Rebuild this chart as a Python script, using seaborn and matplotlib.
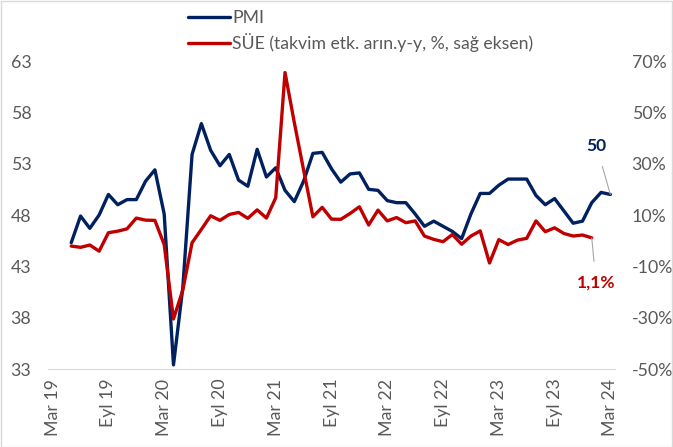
import numpy as np
import pandas as pd
import seaborn as sns
import matplotlib.pyplot as plt
from matplotlib.patches import Rectangle

# x axis: monthly categories Mar 2019 .. Mar 2024 (61 months), labelled every 6 months
tick_labels = ["Mar 19", "Eyl 19", "Mar 20", "Eyl 20", "Mar 21", "Eyl 21",
               "Mar 22", "Eyl 22", "Mar 23", "Eyl 23", "Mar 24"]
n_months = 61

# PMI, May 2019 .. Mar 2024
pmi = [45.3, 47.9, 46.7, 48.0, 50.0, 49.0, 49.5, 49.5,
       51.3, 52.4, 48.1, 33.4, 40.9, 53.9, 56.9, 54.3, 52.8, 53.9, 51.4, 50.8,
       54.4, 51.7, 52.6, 50.4, 49.3, 51.3, 54.0, 54.1, 52.5, 51.2, 52.0, 52.1,
       50.5, 50.4, 49.4, 49.2, 49.2, 48.1, 46.9, 47.4, 46.9, 46.4, 45.7, 48.1,
       50.1, 50.1, 50.9, 51.5, 51.5, 51.5, 49.9, 49.0, 49.6, 48.4, 47.2, 47.4,
       49.2, 50.2, 50.0]

# industrial production, calendar adjusted y/y %, May 2019 .. Jan 2024
sue = [-2.1, -2.6, -1.7, -4.1, 3.1, 3.7, 4.6, 8.8,
       8.0, 7.9, -1.5, -30.5, -19.3, -0.8, 4.4, 9.7, 7.9, 10.2, 11.0, 8.7,
       12.0, 8.8, 16.7, 65.5, 46.0, 27.5, 9.3, 13.0, 8.4, 8.3, 10.6, 13.2,
       6.1, 11.9, 7.7, 9.0, 7.0, 7.7, 1.8, 0.5, -0.4, 2.4, -1.4, 1.8,
       3.8, -8.7, 0.4, -1.5, 0.2, 0.9, 7.7, 3.5, 5.0, 2.8, 1.8, 2.2,
       1.1]

pmi_start = 2  # May 2019
sue_start = 2

df_pmi = pd.DataFrame({"t": np.arange(pmi_start, pmi_start + len(pmi)), "v": pmi})
df_sue = pd.DataFrame({"t": np.arange(sue_start, sue_start + len(sue)), "v": sue})

navy = "#002060"
red = "#C00000"
grey = "#595959"

sns.set_style("white")
plt.rcParams["font.family"] = ["Lato", "DejaVu Sans"]

fig = plt.figure(figsize=(6.73, 4.47), dpi=100)
ax = fig.add_axes([48 / 673, 1 - 369 / 447, (615 - 48) / 673, (369 - 61) / 447])
ax2 = ax.twinx()

sns.lineplot(data=df_pmi, x="t", y="v", ax=ax, color=navy, linewidth=2.4, label="PMI")
sns.lineplot(data=df_sue, x="t", y="v", ax=ax2, color=red, linewidth=2.4,
             label="SÜE (takvim etk. arın.y-y, %, sağ eksen)")

ax.set_xlim(-0.5, n_months - 0.5)
ax.set_ylim(33, 63)
ax.set_yticks(np.arange(33, 64, 5))
ax2.set_ylim(-50, 70)
ax2.set_yticks(np.arange(-50, 71, 20))
ax2.set_yticklabels([f"{v}%" for v in range(-50, 71, 20)])
ax.set_xticks(np.arange(0, n_months, 6))
ax.set_xticklabels(tick_labels, rotation=90)

for a in (ax, ax2):
    a.set_xlabel("")
    a.set_ylabel("")
    for s in a.spines.values():
        s.set_visible(False)
    a.tick_params(length=0, colors=grey, labelsize=12.8)
    if a.get_legend():
        a.get_legend().remove()
ax.spines["bottom"].set_visible(True)
ax.spines["bottom"].set_color("#d9d9d9")
ax.tick_params(axis="y", pad=12)
ax.tick_params(axis="x", pad=7)
ax2.tick_params(axis="y", pad=12)

# latest value labels
ax.annotate("50", xy=(df_pmi["t"].iloc[-1], pmi[-1]), xytext=(-10, 35),
            textcoords="offset points", ha="center", va="center",
            color=navy, fontsize=12.5, fontweight="bold",
            arrowprops=dict(arrowstyle="-", color="#a6a6a6", lw=0.8, shrinkA=7, shrinkB=0))
ax2.annotate("1,1%", xy=(df_sue["t"].iloc[-1], sue[-1]), xytext=(3, -32),
             textcoords="offset points", ha="center", va="center",
             color=red, fontsize=12.5, fontweight="bold",
             arrowprops=dict(arrowstyle="-", color="#a6a6a6", lw=0.8, shrinkA=7, shrinkB=0))

h1, l1 = ax.get_legend_handles_labels()
h2, l2 = ax2.get_legend_handles_labels()
fig.legend(h1 + h2, l1 + l2, loc="upper left", bbox_to_anchor=(181 / 673, 1 - 3 / 447),
           frameon=False, fontsize=12.7, handlelength=2.4, handletextpad=0.1,
           labelspacing=0.4, labelcolor=grey, borderaxespad=0)

fig.patches.append(Rectangle((0.001, 0.001), 0.998, 0.997, transform=fig.transFigure,
                             fill=False, edgecolor="#d9d9d9", lw=1))

fig.savefig("out.png", dpi=100)
